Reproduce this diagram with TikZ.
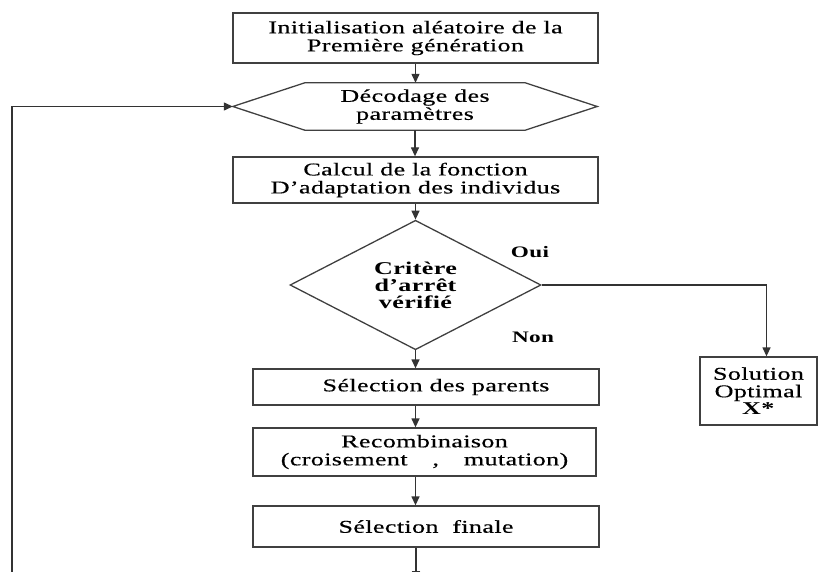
\documentclass[tikz,border=0pt]{standalone}
\usepackage{fontspec}
\setmainfont{Liberation Serif}[FakeStretch=1.45, LetterSpace=2, UprightFeatures={FakeBold=0.4}]
\usetikzlibrary{positioning, shapes.geometric, arrows.meta}

\begin{document}
\begin{tikzpicture}[
    x=1pt, y=-1pt,
    every node/.style={font=\fontsize{18}{18}\selectfont, align=center, inner sep=0pt},
    box/.style={draw=black!75, line width=1.3pt, minimum width=#1},
    hexa/.style={minimum width=364pt, minimum height=47pt},
    decision/.style={diamond, draw=black!75, line width=1.3pt, minimum width=251pt, minimum height=106pt, font=\bfseries\fontsize{18}{17}\selectfont},
    tag/.style={font=\bfseries\fontsize{16}{16}\selectfont},
    arrow/.style={-{Triangle[length=9pt, width=8pt]}, line width=1.3pt, black!80}
]

\useasboundingbox (0,0) rectangle (818,572);

% Boxes of the loop
\node[box=365pt, minimum height=50pt] (init) at (415.5,38) {Initialisation aléatoire de la\\Première génération};
\node[hexa] (decod) at (415,106.5) {Décodage des\\paramètres};
\draw[draw=black!75, line width=1.3pt] (decod.west) -- ([xshift=72pt]decod.north west) -- ([xshift=-72pt]decod.north east)
    -- (decod.east) -- ([xshift=-72pt]decod.south east) -- ([xshift=72pt]decod.south west) -- cycle;
\node[box=365pt, minimum height=46pt] (calc) at (415.5,180) {Calcul de la fonction\\D'adaptation des individus};
\node[decision] (crit) at (415.5,285) {Critère\\d'arrêt\\vérifié};
\node[box=346pt, minimum height=36pt] (sel) at (426,387) {\hspace*{20pt}Sélection des parents};
\node[box=343pt, minimum height=48pt] (recomb) at (424.5,452) {Recombinaison\\(croisement \quad, \quad mutation)};
\node[box=346pt, minimum height=41pt] (fin) at (426,526.5) {Sélection~~finale};
\node[box=117pt, minimum height=68pt, font=\fontsize{18}{17.5}\selectfont] (sol) at (758.5,391) {Solution\\Optimal\\\textbf{X*}};

\node[tag] (oui) at (530,252) {Oui};
\node[tag] (non) at (533,337) {Non};

% Free ends below the page
\coordinate (down) at (416,580);
\coordinate (back) at (12,580);

% Arrows
\draw[arrow] (init) -- (decod.north -| init.south);
\draw[arrow] (decod.south) -- (calc.north -| decod.south);
\draw[arrow] (calc.south) -- (crit.north);
\draw[arrow] (crit.south) -- (sel.north -| crit.south);
\draw[arrow] (sel.south -| crit.south) -- (recomb.north -| crit.south);
\draw[arrow] (recomb.south -| crit.south) -- (fin.north -| crit.south);
\draw[arrow] (fin.south -| down) -- (down);
\draw[arrow] (crit.east) -| ([xshift=8pt]sol.north);
\draw[arrow] (back) |- (decod.west);

\end{tikzpicture}
\end{document}
